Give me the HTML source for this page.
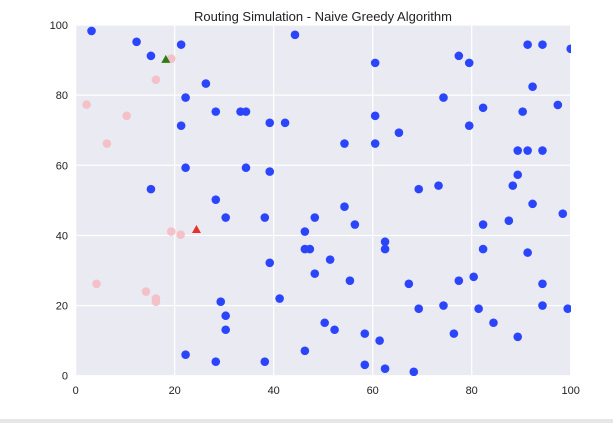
<!DOCTYPE html>
<html><head><meta charset="utf-8"><style>
body{margin:0;background:#fff;width:613px;height:423px;overflow:hidden;font-family:"Liberation Sans",sans-serif;}
</style></head><body>
<svg width="613" height="423" xmlns="http://www.w3.org/2000/svg">
<rect x="0" y="419" width="613" height="4" fill="#e6e6e6"/>
<text x="323" y="21" text-anchor="middle" font-size="13" fill="#222">Routing Simulation - Naive Greedy Algorithm</text>
<defs><clipPath id="pc"><rect x="76" y="25" width="495" height="351"/></clipPath></defs>
<rect x="76" y="25" width="495" height="351" fill="#EAEAF2"/>
<g id="grid"></g><g id="ticks"></g><g id="marks" clip-path="url(#pc)"></g>
</svg>
<script>
const xTicks=[0,20,40,60,80,100];
const yTicks=[0,20,40,60,80,100];
const nodesX=[91.3,94.3,100,77.4,79.5,60.5,92.3,74.3,82.3,90.3,97.4,60.5,79.5,65.3,54.3,60.5,89.3,91.3,94.3,89.3,88.3,73.3,69.3,54.3,92.3,3.2,12.3,15.2,21.3,44.3,26.3,22.2,28.3,33.3,34.4,21.3,39.2,42.3,22.2,34.4,39.2,15.2,28.3,30.3,38.2,48.3,46.3,46.3,47.3,51.4,39.2,48.3,41.2,29.3,30.3,30.3,50.3,52.3,22.2,28.3,38.2,46.3,56.4,82.3,87.5,98.4,62.5,62.5,82.3,91.3,55.4,67.3,77.4,80.4,94.3,69.3,74.3,81.4,94.3,99.4,58.4,61.4,76.4,84.4,89.3,58.4,62.5,68.3];
const nodesY=[94.4,94.4,93.2,91.2,89.2,89.2,82.4,79.3,76.4,75.3,77.2,74.1,71.3,69.3,66.2,66.2,64.2,64.2,64.2,57.3,54.2,54.2,53.2,48.2,49.0,98.3,95.2,91.2,94.4,97.2,83.3,79.3,75.3,75.3,75.3,71.3,72.1,72.1,59.3,59.3,58.2,53.2,50.2,45.1,45.1,45.1,41.1,36.1,36.1,33.1,32.2,29.1,22.0,21.1,17.1,13.1,15.1,13.1,6.0,4.0,4.0,7.1,43.1,43.1,44.2,46.2,38.2,36.1,36.1,35.1,27.1,26.2,27.1,28.2,26.2,19.1,20.0,19.1,20.0,19.1,12.0,10.0,12.0,15.1,11.1,3.1,2.0,1.1];
const visitedX=[2.2,10.3,6.3,16.2,19.3,19.3,21.2,4.2,14.2,16.2,16.2];
const visitedY=[77.3,74.1,66.2,84.4,90.4,41.1,40.2,26.2,24.0,22.0,21.1];
const startPt=[18.2,90.2];
const currentPt=[24.4,41.7];
const NS="http://www.w3.org/2000/svg";
const sx=v=>75.7+v*4.95, sy=v=>375.7-v*3.507;
function mk(t,a,p){const e=document.createElementNS(NS,t);for(const k in a)e.setAttribute(k,a[k]);document.getElementById(p).appendChild(e);return e;}
xTicks.forEach(t=>{
 const g=mk('line',{x1:sx(t),x2:sx(t),y1:25,y2:376,stroke:'#fff','stroke-width':1.2},'grid');
 
 
 const l=mk('text',{x:sx(t),y:394,'text-anchor':'middle','font-size':11,fill:'#222'},'ticks');l.textContent=t;
 
 
});
yTicks.forEach(t=>{
 const g=mk('line',{x1:76,x2:571,y1:sy(t),y2:sy(t),stroke:'#fff','stroke-width':1.2},'grid');
 
 
 const l=mk('text',{x:68,y:sy(t)+4,'text-anchor':'end','font-size':11,fill:'#222'},'ticks');l.textContent=t;
 
 
});
visitedX.forEach((x,i)=>{
 const c=mk('circle',{cx:sx(x),cy:sy(visitedY[i]),r:4.3,fill:'#F5C1C8'},'marks');
 
 
});
nodesX.forEach((x,i)=>{
 const c=mk('circle',{cx:sx(x),cy:sy(nodesY[i]),r:4.3,fill:'#2A45FB'},'marks');
 
 
});
function tri(p,col,name){const x=sx(p[0]),y=sy(p[1]);
 const t=mk('polygon',{points:`${x-4.5},${y+3.5} ${x+4.5},${y+3.5} ${x},${y-4.5}`,fill:col},'marks');
 
 }
tri(startPt,'#2E7D12','start-marker');
tri(currentPt,'#E8312A','current-marker');
</script>
</body></html>
